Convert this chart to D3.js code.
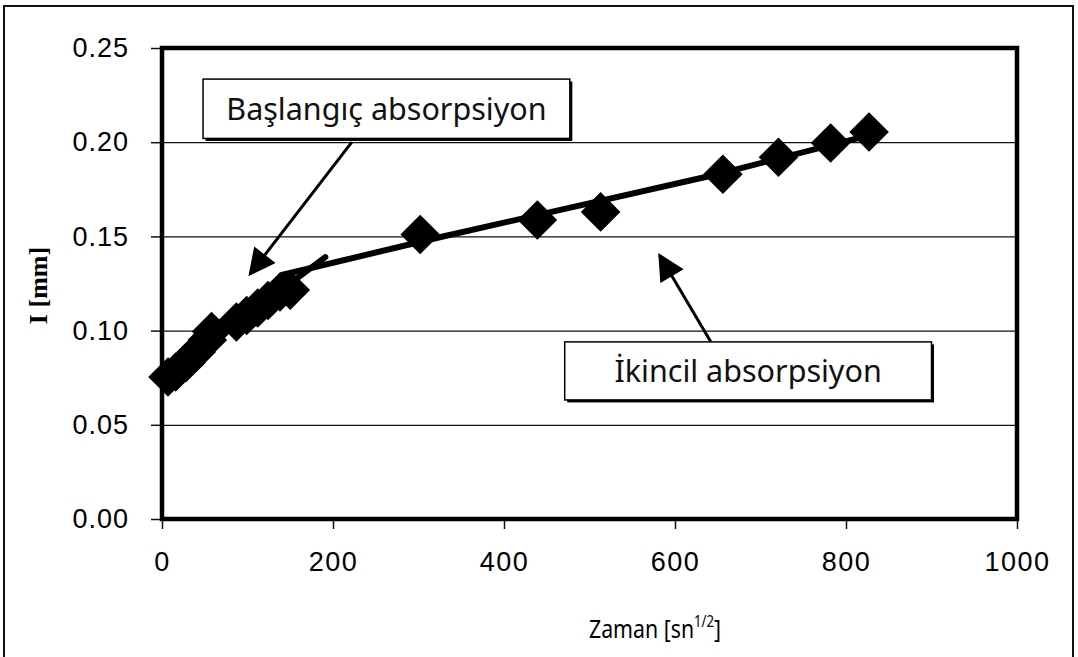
<!DOCTYPE html>
<html>
<head>
<meta charset="utf-8">
<script src="https://cdn.jsdelivr.net/npm/d3@7"></script>
<style>
  html, body { margin: 0; padding: 0; background: #fff; }
  svg { display: block; }
</style>
</head>
<body>
<svg id="chart" width="1078" height="657"></svg>
<script>
// Measured sorptivity data: time (sn^1/2) against absorbed depth I (mm)
const timeValues  = [7, 16, 28, 40, 53, 58, 87, 99, 112, 124, 138, 150, 302, 439, 513, 656, 721, 782, 827];
const depthValues = [0.0754, 0.078, 0.083, 0.0886, 0.095, 0.0995, 0.1046, 0.108, 0.112, 0.116, 0.1205, 0.1215,
                     0.151, 0.1587, 0.163, 0.183, 0.192, 0.1996, 0.2054];

// Fitted trend lines: initial and secondary absorption
const initialFitX   = [0, 191];
const initialFitY   = [0.074, 0.139];
const secondaryFitX = [140, 326, 646, 828];
const secondaryFitY = [0.1295, 0.1497, 0.1826, 0.2038];

// Axis ticks
const xTicks = [0, 200, 400, 600, 800, 1000];
const yTicks = [0, 0.05, 0.10, 0.15, 0.20, 0.25];

// Annotation callouts (data space)
const calloutLabels = ["Başlangıç absorpsiyon", "İkincil absorpsiyon"];
const calloutBoxX0 = [48, 471];
const calloutBoxX1 = [477, 900];
const calloutBoxY0 = [0.2335, 0.0940];
const calloutBoxY1 = [0.2020, 0.0632];
const arrowFromX = [222, 642];
const arrowFromY = [0.2000, 0.0940];
const arrowToX   = [103, 582];
const arrowToY   = [0.1300, 0.1400];

const svg = d3.select("#chart");
const margin = { left: 162, top: 48, right: 1078 - 1017, bottom: 657 - 519 };
const W = 1078, H = 657;

const x = d3.scaleLinear().domain([0, 1000]).range([margin.left, W - margin.right]);
const y = d3.scaleLinear().domain([0, 0.25]).range([H - margin.bottom, margin.top]);

// outer frame
svg.append("rect")
  .attr("x", 4).attr("y", 6).attr("width", 1069).attr("height", 700)
  .attr("fill", "none").attr("stroke", "#111").attr("stroke-width", 2);

// horizontal gridlines
svg.append("g")
  .attr("transform", `translate(${x(0)},0)`)
  .call(d3.axisLeft(y).tickValues(yTicks).tickSize(-(x(1000) - x(0))).tickFormat(""))
  .call(g => g.select(".domain").remove())
  .call(g => g.selectAll("line").attr("stroke", "#111").attr("stroke-width", 1.3));

const tickFont = "'Liberation Sans', Arial, sans-serif";

// y axis ticks and labels
const yAxis = svg.append("g")
  .attr("transform", `translate(${x(0)},0)`)
  .call(d3.axisLeft(y).tickValues(yTicks).tickSize(11).tickPadding(22).tickFormat(d3.format(".2f")));
yAxis.select(".domain").remove();
yAxis.selectAll("line").attr("stroke", "#111").attr("stroke-width", 1.5);
yAxis.selectAll("text")
  .style("font-family", tickFont).style("font-size", "27px")
  .attr("letter-spacing", 1).attr("fill", "#000");

// x axis ticks and labels
const xAxis = svg.append("g")
  .attr("transform", `translate(0,${y(0)})`)
  .call(d3.axisBottom(x).tickValues(xTicks).tickSize(10).tickPadding(23).tickFormat(d3.format("d")));
xAxis.select(".domain").remove();
xAxis.selectAll("line").attr("stroke", "#111").attr("stroke-width", 1.5);
xAxis.selectAll("text")
  .style("font-family", tickFont).style("font-size", "27px")
  .attr("letter-spacing", 1.5).attr("fill", "#000");

// plot frame
svg.append("rect")
  .attr("x", x(0)).attr("y", y(0.25))
  .attr("width", x(1000) - x(0)).attr("height", y(0) - y(0.25))
  .attr("fill", "none").attr("stroke", "#000").attr("stroke-width", 4.5);

// axis titles
svg.append("text")
  .attr("transform", `translate(47,${(y(0) + y(0.25)) / 2 + 2}) rotate(-90)`)
  .attr("text-anchor", "middle")
  .style("font-family", "'Liberation Serif', 'Times New Roman', serif")
  .style("font-weight", "bold").style("font-size", "26px")
  .text("I [mm]");

// condensed x-axis title
const xTitle = svg.append("text")
  .attr("transform", "translate(655,638) scale(0.82,1)")
  .attr("text-anchor", "middle")
  .style("font-family", "'Noto Sans', sans-serif")
  .style("font-size", "26px").attr("fill", "#000");
xTitle.append("tspan").text("Zaman [sn");
xTitle.append("tspan").style("font-size", "16px").attr("dy", -11).text("1/2");
xTitle.append("tspan").attr("dy", 11).text("]");

// fitted lines
const line = d3.line().x(d => x(d[0])).y(d => y(d[1]));
svg.append("path")
  .datum(d3.zip(initialFitX, initialFitY))
  .attr("d", line).attr("fill", "none")
  .attr("stroke", "#000").attr("stroke-width", 6).attr("stroke-linecap", "round");
svg.append("path")
  .datum(d3.zip(secondaryFitX, secondaryFitY))
  .attr("d", line).attr("fill", "none")
  .attr("stroke", "#000").attr("stroke-width", 6).attr("stroke-linecap", "round");

// diamond markers
const diamond = d3.symbol().type(d3.symbolSquare).size(28 * 28);
svg.append("g").selectAll("path")
  .data(d3.zip(timeValues, depthValues))
  .join("path")
  .attr("d", diamond)
  .attr("transform", d => `translate(${x(d[0])},${y(d[1])}) rotate(45)`)
  .attr("fill", "#000");

// callout arrows
const defs = svg.append("defs");
defs.append("marker")
  .attr("id", "arrowhead")
  .attr("viewBox", "0 0 10 10")
  .attr("refX", 9).attr("refY", 5)
  .attr("markerUnits", "userSpaceOnUse")
  .attr("markerWidth", 30).attr("markerHeight", 27)
  .attr("orient", "auto")
  .append("path").attr("d", "M0,0 L10,5 L0,10 Z").attr("fill", "#000");

calloutLabels.forEach((label, i) => {
  svg.append("line")
    .attr("x1", x(arrowFromX[i])).attr("y1", y(arrowFromY[i]))
    .attr("x2", x(arrowToX[i])).attr("y2", y(arrowToY[i]))
    .attr("stroke", "#000").attr("stroke-width", 3)
    .attr("marker-end", "url(#arrowhead)");

  const bx = x(calloutBoxX0[i]), by = y(calloutBoxY0[i]);
  const bw = x(calloutBoxX1[i]) - bx, bh = y(calloutBoxY1[i]) - by;
  // drop shadow
  svg.append("rect")
    .attr("x", bx + 2.5).attr("y", by + 2.5).attr("width", bw).attr("height", bh)
    .attr("fill", "#000");
  svg.append("rect")
    .attr("x", bx).attr("y", by).attr("width", bw).attr("height", bh)
    .attr("fill", "#fff").attr("stroke", "#000").attr("stroke-width", 1.5);
  svg.append("text")
    .attr("x", bx + bw / 2).attr("y", by + bh / 2 + 11)
    .attr("text-anchor", "middle")
    .style("font-family", "'Noto Sans', sans-serif")
    .style("font-size", "30.5px").attr("fill", "#111")
    .text(label);
});
</script>
</body>
</html>
